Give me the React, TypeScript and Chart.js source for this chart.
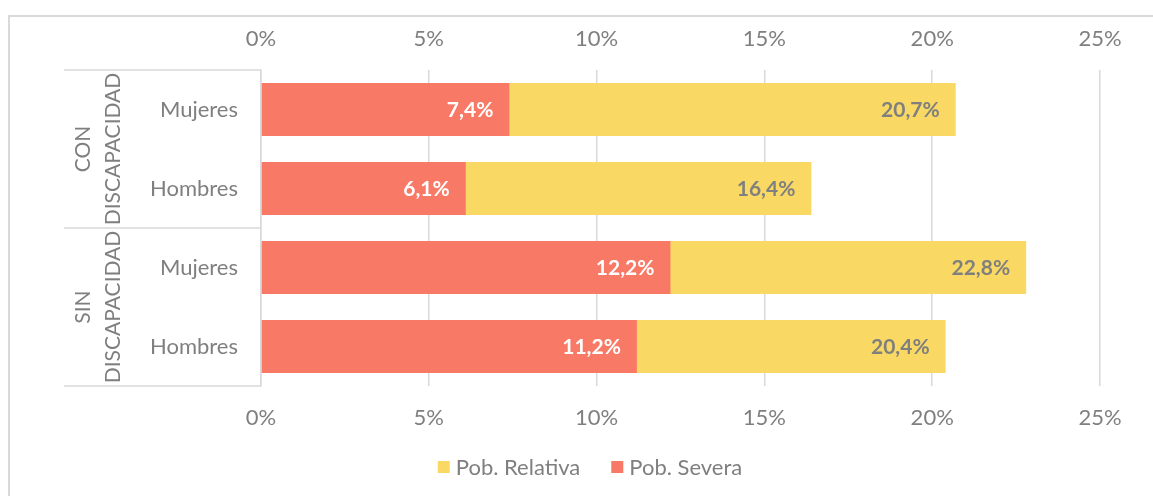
import React, { useEffect, useRef } from "react";
import { Chart, registerables } from "chart.js";

Chart.register(...registerables);

const categories = ["Mujeres", "Hombres", "Mujeres", "Hombres"];
const groupLabels = [["CON", "DISCAPACIDAD"], ["SIN", "DISCAPACIDAD"]];
const groupSizes = [2, 2];
const severa = [7.4, 6.1, 12.2, 11.2];
const relativa = [20.7, 16.4, 22.8, 20.4];
const seriesNames = ["Pob. Relativa", "Pob. Severa"];
const xMin = 0;
const xMax = 25;
const xStep = 5;

const COLOR_SEVERA = "#F87966";
const COLOR_RELATIVA = "#F9D963";
const TEXT = "#7F7F7F";
const GRID = "#D9D9D9";
const FONT = "Lato, 'Open Sans', sans-serif";

const fmt = (v: number) => v.toFixed(1).replace(".", ",") + "%";

const labelsPlugin = {
  id: "customDraw",
  afterDatasetsDraw(chart: any) {
    const ctx = chart.ctx;
    ctx.save();
    ctx.font = `bold 21px ${FONT}`;
    ctx.textAlign = "right";
    ctx.textBaseline = "middle";
    chart.data.datasets.forEach((ds: any, di: number) => {
      const meta = chart.getDatasetMeta(di);
      meta.data.forEach((bar: any, i: number) => {
        ctx.fillStyle = ds.labelColor;
        ctx.fillText(fmt(ds.data[i]), bar.x - 16, bar.y + 1);
      });
    });
    ctx.restore();
  },
  afterDraw(chart: any) {
    const ctx = chart.ctx;
    const y = chart.scales.y;
    const area = chart.chartArea;
    ctx.save();
    const step = y.getPixelForValue(1) - y.getPixelForValue(0);
    let idx = 0;
    const bounds: number[] = [y.getPixelForValue(0) - step / 2];
    groupSizes.forEach((n) => {
      idx += n;
      bounds.push(y.getPixelForValue(idx - 1) + step / 2);
    });
    ctx.strokeStyle = GRID;
    ctx.lineWidth = 1.5;
    bounds.forEach((b) => {
      ctx.beginPath();
      ctx.moveTo(54, b);
      ctx.lineTo(area.left, b);
      ctx.stroke();
    });
    ctx.fillStyle = TEXT;
    ctx.font = `21px ${FONT}`;
    ctx.textAlign = "center";
    ctx.textBaseline = "middle";
    groupLabels.forEach((lines, gi) => {
      const mid = (bounds[gi] + bounds[gi + 1]) / 2;
      lines.forEach((t, li) => {
        ctx.save();
        ctx.translate(72.5 + li * 30, mid);
        ctx.rotate(-Math.PI / 2);
        ctx.fillText(t, 0, 1);
        ctx.restore();
      });
    });
    // legend
    ctx.font = `22px ${FONT}`;
    const items = [
      { text: seriesNames[0], color: COLOR_RELATIVA },
      { text: seriesNames[1], color: COLOR_SEVERA },
    ];
    const box = 12;
    const gapBox = 6;
    const gapItem = 31;
    const widths = items.map((it) => ctx.measureText(it.text).width);
    let total = 0;
    widths.forEach((w, i) => {
      total += box + gapBox + w + (i < widths.length - 1 ? gapItem : 0);
    });
    let x = 580 - total / 2;
    const ly = 450;
    ctx.textAlign = "left";
    items.forEach((it, i) => {
      ctx.fillStyle = it.color;
      ctx.fillRect(x, ly - box / 2, box, box);
      x += box + gapBox;
      ctx.fillStyle = TEXT;
      ctx.fillText(it.text, x, ly + 1);
      x += widths[i] + gapItem;
    });
    ctx.restore();
  },
};

export default function App() {
  const ref = useRef<HTMLCanvasElement | null>(null);
  useEffect(() => {
    if (!ref.current) return;
    const tickCb = (v: any) => v + "%";
    const chart = new Chart(ref.current, {
      type: "bar",
      data: {
        labels: categories,
        datasets: [
          {
            label: seriesNames[1],
            data: severa,
            backgroundColor: COLOR_SEVERA,
            grouped: false,
            order: 0,
            barPercentage: 0.67,
            categoryPercentage: 1,
            labelColor: "#FFFFFF",
          } as any,
          {
            label: seriesNames[0],
            data: relativa,
            backgroundColor: COLOR_RELATIVA,
            grouped: false,
            order: 1,
            barPercentage: 0.67,
            categoryPercentage: 1,
            labelColor: TEXT,
          } as any,
        ],
      },
      options: {
        indexAxis: "y",
        responsive: false,
        animation: false,
        layout: { padding: { left: 0, right: 53, top: 0, bottom: 50 } },
        plugins: { legend: { display: false }, tooltip: { enabled: false } },
        scales: {
          x: {
            position: "bottom",
            min: xMin,
            max: xMax,
            ticks: { stepSize: xStep, callback: tickCb, color: TEXT, font: { family: FONT, size: 22 }, padding: 19 },
            grid: { color: GRID, drawTicks: false, lineWidth: 1.5 },
            border: { display: false },
            afterFit: (s: any) => {
              s.height = 60;
            },
          },
          x2: {
            position: "top",
            type: "linear",
            min: xMin,
            max: xMax,
            ticks: { stepSize: xStep, callback: tickCb, color: TEXT, font: { family: FONT, size: 22 }, padding: 18 },
            grid: { display: false, drawTicks: false },
            border: { display: false },
            afterFit: (s: any) => {
              s.height = 53;
            },
          },
          y: {
            type: "category",
            ticks: { color: TEXT, font: { family: FONT, size: 22 }, padding: 23 },
            grid: { display: false, drawTicks: false },
            border: { display: true, color: GRID, width: 1.5 },
            afterFit: (s: any) => {
              s.width = 251;
            },
          },
        },
      } as any,
      plugins: [labelsPlugin],
    });
    return () => chart.destroy();
  }, []);
  return (
    <div
      style={{
        position: "absolute",
        left: 8,
        top: 15,
        width: 1145,
        height: 481,
        borderTop: `2px solid ${GRID}`,
        borderLeft: `2px solid ${GRID}`,
        boxSizing: "border-box",
        background: "#fff",
      }}
    >
      <canvas ref={ref} width={1143} height={479} style={{ display: "block" }} />
    </div>
  );
}
